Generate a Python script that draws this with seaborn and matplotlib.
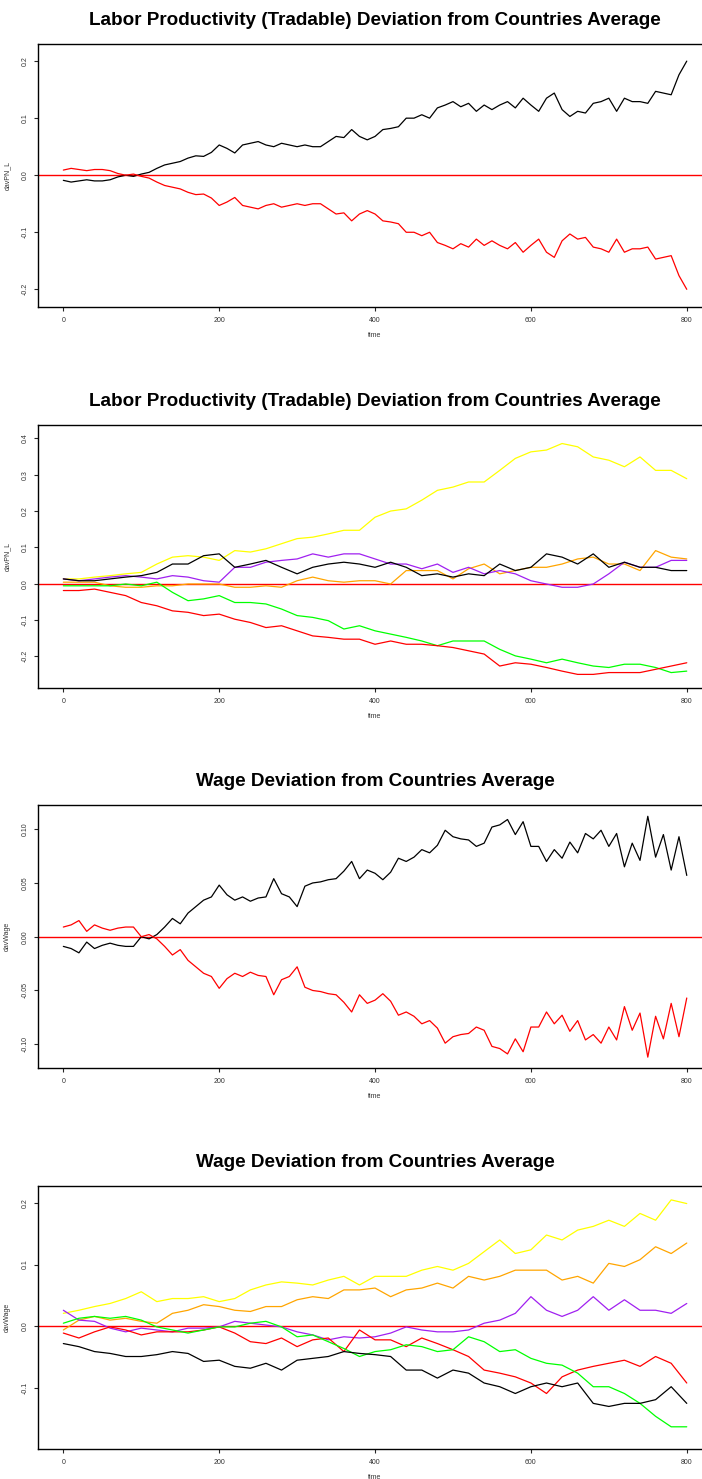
import numpy as np
import pandas as pd
import seaborn as sns
import matplotlib
matplotlib.use("Agg")
import matplotlib.pyplot as plt

#%% Data
# two-country runs, sampled every 10 periods
t10 = list(range(0, 801, 10))
prod2_black = [-0.009, -0.012, -0.010, -0.008, -0.010, -0.010, -0.008, -0.003, 0.000, -0.002,
               0.002, 0.005, 0.012, 0.018, 0.021, 0.024, 0.030, 0.034, 0.033, 0.040,
               0.053, 0.047, 0.039, 0.053, 0.056, 0.059, 0.053, 0.050, 0.056, 0.053,
               0.050, 0.053, 0.050, 0.050, 0.059, 0.068, 0.066, 0.080, 0.068, 0.062,
               0.068, 0.080, 0.082, 0.085, 0.100, 0.100, 0.106, 0.100, 0.118, 0.123,
               0.129, 0.120, 0.126, 0.112, 0.123, 0.115, 0.123, 0.129, 0.118, 0.135,
               0.123, 0.112, 0.135, 0.144, 0.115, 0.103, 0.112, 0.109, 0.126, 0.129,
               0.135, 0.112, 0.135, 0.129, 0.129, 0.126, 0.147, 0.144, 0.141, 0.176,
               0.200]
wage2_black = [-0.009, -0.011, -0.015, -0.005, -0.011, -0.008, -0.006, -0.008, -0.009, -0.009,
               0.000, -0.002, 0.002, 0.009, 0.017, 0.012, 0.022, 0.028, 0.034, 0.037,
               0.048, 0.039, 0.034, 0.037, 0.033, 0.036, 0.037, 0.054, 0.040, 0.037,
               0.028, 0.047, 0.050, 0.051, 0.053, 0.054, 0.061, 0.070, 0.054, 0.062,
               0.059, 0.053, 0.060, 0.073, 0.070, 0.074, 0.081, 0.078, 0.085, 0.099,
               0.093, 0.091, 0.090, 0.084, 0.087, 0.102, 0.104, 0.109, 0.095, 0.107,
               0.084, 0.084, 0.070, 0.081, 0.073, 0.088, 0.078, 0.096, 0.091, 0.099,
               0.084, 0.096, 0.065, 0.087, 0.071, 0.112, 0.074, 0.095, 0.062, 0.093,
               0.057]
# with two countries the second one is the mirror image of the first
prod2_red = [-v for v in prod2_black]
wage2_red = [-v for v in wage2_black]

# six-country runs, sampled every 20 periods
t20 = list(range(0, 801, 20))
prod6_black = [0.013, 0.008, 0.008, 0.013, 0.018, 0.022, 0.031, 0.054, 0.054, 0.077,
               0.082, 0.045, 0.054, 0.064, 0.045, 0.027, 0.045, 0.054, 0.059, 0.054,
               0.045, 0.059, 0.045, 0.022, 0.027, 0.018, 0.027, 0.022, 0.054, 0.036,
               0.045, 0.082, 0.073, 0.054, 0.082, 0.045, 0.059, 0.045, 0.045, 0.036,
               0.036]
prod6_red = [-0.019, -0.019, -0.015, -0.024, -0.033, -0.052, -0.061, -0.075, -0.079, -0.088,
             -0.084, -0.098, -0.107, -0.121, -0.116, -0.130, -0.144, -0.148, -0.153, -0.153,
             -0.167, -0.158, -0.167, -0.167, -0.171, -0.176, -0.185, -0.194, -0.227, -0.218,
             -0.222, -0.231, -0.241, -0.250, -0.250, -0.245, -0.245, -0.245, -0.236, -0.227,
             -0.218]
prod6_green = [-0.006, -0.006, -0.006, -0.006, -0.001, -0.006, 0.004, -0.024, -0.047, -0.042,
               -0.033, -0.052, -0.052, -0.056, -0.070, -0.088, -0.093, -0.102, -0.125, -0.116,
               -0.130, -0.139, -0.148, -0.158, -0.171, -0.158, -0.158, -0.158, -0.181, -0.199,
               -0.208, -0.218, -0.208, -0.218, -0.227, -0.231, -0.222, -0.222, -0.231, -0.245,
               -0.241]
prod6_yellow = [0.013, 0.013, 0.018, 0.022, 0.027, 0.031, 0.054, 0.073, 0.077, 0.073,
                0.064, 0.091, 0.087, 0.096, 0.110, 0.124, 0.128, 0.137, 0.147, 0.147,
                0.183, 0.200, 0.206, 0.230, 0.257, 0.266, 0.280, 0.280, 0.312, 0.345,
                0.363, 0.368, 0.386, 0.377, 0.349, 0.340, 0.322, 0.349, 0.312, 0.312,
                0.289]
prod6_orange = [0.004, 0.004, 0.004, -0.006, -0.010, -0.010, -0.006, -0.006, -0.001, -0.001,
                -0.001, -0.010, -0.010, -0.006, -0.010, 0.008, 0.018, 0.008, 0.004, 0.008,
                0.008, -0.001, 0.036, 0.036, 0.036, 0.013, 0.041, 0.054, 0.027, 0.036,
                0.045, 0.045, 0.054, 0.068, 0.073, 0.054, 0.054, 0.036, 0.091, 0.073,
                0.068]
prod6_purple = [0.013, 0.008, 0.013, 0.018, 0.022, 0.018, 0.013, 0.022, 0.018, 0.008,
                0.004, 0.045, 0.045, 0.059, 0.064, 0.068, 0.082, 0.073, 0.082, 0.082,
                0.068, 0.054, 0.054, 0.041, 0.054, 0.031, 0.045, 0.027, 0.036, 0.027,
                0.008, -0.001, -0.010, -0.010, -0.001, 0.027, 0.059, 0.045, 0.045, 0.064,
                0.064]

wage6_black = [-0.028, -0.033, -0.041, -0.044, -0.049, -0.049, -0.046, -0.041, -0.044, -0.057,
               -0.055, -0.065, -0.068, -0.060, -0.071, -0.055, -0.052, -0.049, -0.041, -0.044,
               -0.046, -0.049, -0.071, -0.071, -0.084, -0.071, -0.076, -0.092, -0.098, -0.109,
               -0.098, -0.092, -0.098, -0.092, -0.125, -0.130, -0.125, -0.125, -0.119, -0.098,
               -0.125]
wage6_red = [-0.011, -0.019, -0.009, -0.001, -0.006, -0.014, -0.009, -0.009, -0.009, -0.006,
             -0.001, -0.011, -0.025, -0.028, -0.019, -0.033, -0.022, -0.019, -0.041, -0.006,
             -0.022, -0.022, -0.033, -0.019, -0.028, -0.038, -0.049, -0.071, -0.076, -0.082,
             -0.092, -0.109, -0.082, -0.071, -0.065, -0.060, -0.055, -0.065, -0.049, -0.060,
             -0.092]
wage6_green = [0.005, 0.013, 0.016, 0.013, 0.016, 0.010, -0.001, -0.006, -0.011, -0.006,
               -0.001, -0.001, 0.005, 0.008, -0.001, -0.017, -0.014, -0.025, -0.036, -0.049,
               -0.041, -0.038, -0.030, -0.033, -0.041, -0.038, -0.017, -0.025, -0.041, -0.038,
               -0.052, -0.060, -0.063, -0.076, -0.098, -0.098, -0.109, -0.125, -0.146, -0.163,
               -0.163]
wage6_yellow = [0.021, 0.026, 0.032, 0.037, 0.045, 0.056, 0.040, 0.045, 0.045, 0.048,
                0.040, 0.045, 0.059, 0.067, 0.072, 0.070, 0.067, 0.075, 0.081, 0.067,
                0.081, 0.081, 0.081, 0.091, 0.097, 0.091, 0.102, 0.121, 0.140, 0.118,
                0.124, 0.148, 0.140, 0.156, 0.162, 0.172, 0.162, 0.183, 0.172, 0.205,
                0.199]
wage6_orange = [-0.006, 0.010, 0.016, 0.010, 0.013, 0.008, 0.005, 0.021, 0.026, 0.035,
                0.032, 0.026, 0.024, 0.032, 0.032, 0.043, 0.048, 0.045, 0.059, 0.059,
                0.062, 0.048, 0.059, 0.062, 0.070, 0.062, 0.081, 0.075, 0.081, 0.091,
                0.091, 0.091, 0.075, 0.081, 0.070, 0.102, 0.097, 0.108, 0.129, 0.118,
                0.135]
wage6_purple = [0.026, 0.010, 0.008, -0.003, -0.009, -0.003, -0.006, -0.009, -0.003, -0.003,
                -0.001, 0.008, 0.005, 0.002, -0.001, -0.009, -0.014, -0.022, -0.017, -0.019,
                -0.017, -0.011, -0.001, -0.006, -0.009, -0.009, -0.006, 0.005, 0.010, 0.021,
                0.048, 0.026, 0.016, 0.026, 0.048, 0.026, 0.043, 0.026, 0.026, 0.021,
                0.037]

colors = {"black": "black", "red": "red", "green": "#00ff00",
          "yellow": "yellow", "orange": "orange", "purple": "#a020f0"}

#%% Build long tables
def make_df(t, series):
    frames = []
    for name, vals in series.items():
        frames.append(pd.DataFrame({"time": t, "value": vals, "country": name}))
    return pd.concat(frames, ignore_index=True)

panels = [
    ("Labor Productivity (Tradable) Deviation from Countries Average", "davPN_L",
     make_df(t10, {"black": prod2_black, "red": prod2_red}), (-0.231, 0.230), [-0.2, -0.1, 0.0, 0.1, 0.2], "{:.1f}"),
    ("Labor Productivity (Tradable) Deviation from Countries Average", "davPN_L",
     make_df(t20, {"yellow": prod6_yellow, "orange": prod6_orange, "purple": prod6_purple,
                   "black": prod6_black, "green": prod6_green, "red": prod6_red}),
     (-0.2875, 0.437), [-0.2, -0.1, 0.0, 0.1, 0.2, 0.3, 0.4], "{:.1f}"),
    ("Wage Deviation from Countries Average", "davWage",
     make_df(t10, {"black": wage2_black, "red": wage2_red}), (-0.1221, 0.1225), [-0.10, -0.05, 0.0, 0.05, 0.10], "{:.2f}"),
    ("Wage Deviation from Countries Average", "davWage",
     make_df(t20, {"yellow": wage6_yellow, "orange": wage6_orange, "purple": wage6_purple,
                   "red": wage6_red, "green": wage6_green, "black": wage6_black}),
     (-0.199, 0.2275), [-0.1, 0.0, 0.1, 0.2], "{:.1f}"),
]

#%% Plot
sns.set_style("white")
plt.rcParams["font.family"] = ["Liberation Sans", "DejaVu Sans"]

W, H = 702, 1479
fig = plt.figure(figsize=(W / 100, H / 100), dpi=100)
tops = [44, 425, 805, 1186]
ax_h = 263
left_px, right_px = 38.4, 711.7

for (title, ylab, df, ylim, yticks, fmt), top in zip(panels, tops):
    ax = fig.add_axes([left_px / W, 1 - (top + ax_h) / H, (right_px - left_px) / W, ax_h / H])
    sns.lineplot(data=df, x="time", y="value", hue="country", palette=colors,
                 legend=False, linewidth=0.9, ax=ax, zorder=3)
    ax.axhline(0, color="red", linewidth=1.0, zorder=2)
    ax.set_xlim(-32, 832)
    ax.set_ylim(*ylim)
    ax.set_xticks([0, 200, 400, 600, 800])
    ax.set_yticks(yticks)
    ax.set_yticklabels([fmt.format(v) for v in yticks], rotation=90, va="center")
    ax.tick_params(axis="both", labelsize=5, labelcolor="#333333", length=3,
                   width=0.8, direction="out", pad=4, left=True, bottom=True)
    ax.set_xlabel("time", fontsize=5, color="#333333", labelpad=6)
    ax.set_ylabel(ylab, fontsize=5, color="#333333", labelpad=8)
    ax.set_title(title, fontsize=13.6, fontweight="bold", color="black", pad=14)
    for s in ax.spines.values():
        s.set_linewidth(1.0)
        s.set_color("black")

fig.savefig("out.png", dpi=100)
